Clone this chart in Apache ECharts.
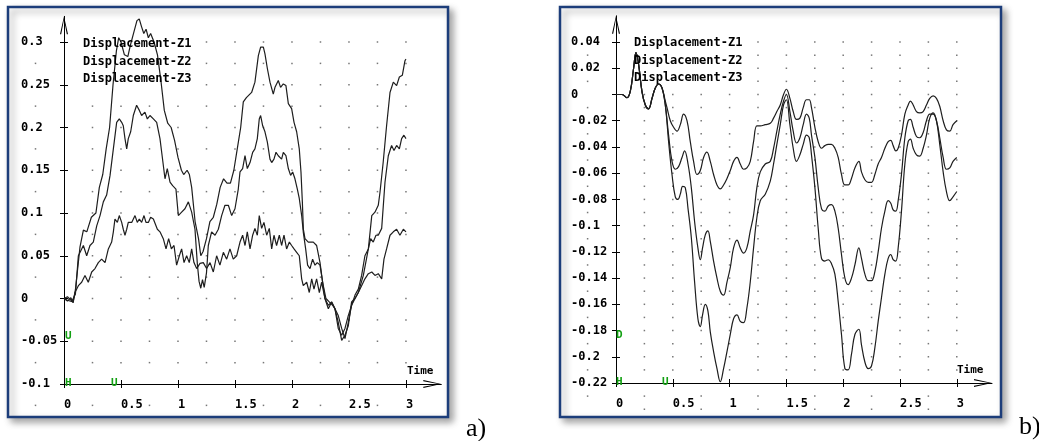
<!DOCTYPE html>
<html>
<head>
<meta charset="utf-8">
<title>Displacement</title>
<script src="https://cdn.jsdelivr.net/npm/echarts@6/dist/echarts.min.js"></script>
<style>
  html, body { margin: 0; padding: 0; background: #fff; }
  #main { width: 1039px; height: 441px; }
</style>
</head>
<body>
<div id="main"></div>
<script>
var seriesNames = ['Displacement-Z1', 'Displacement-Z2', 'Displacement-Z3']

// panel a) [time, displacement]
var aZ1 = [[0,0],[0.03,-0.002],[0.08,-0.004],[0.1,0.01],[0.14,0.06],[0.17,0.08],[0.2,0.078],[0.24,0.095],[0.28,0.1],[0.31,0.13],[0.34,0.145],[0.37,0.175],[0.4,0.2],[0.43,0.25],[0.46,0.29],[0.48,0.305],[0.5,0.3],[0.53,0.285],[0.56,0.283],[0.58,0.295],[0.61,0.31],[0.64,0.325],[0.66,0.327],[0.68,0.318],[0.7,0.31],[0.72,0.315],[0.74,0.305],[0.76,0.31],[0.79,0.3],[0.82,0.285],[0.85,0.255],[0.88,0.22],[0.91,0.205],[0.94,0.2],[0.97,0.185],[1.0,0.165],[1.03,0.15],[1.05,0.145],[1.08,0.15],[1.1,0.145],[1.12,0.13],[1.15,0.09],[1.18,0.07],[1.2,0.05],[1.22,0.055],[1.25,0.07],[1.28,0.09],[1.31,0.095],[1.34,0.11],[1.37,0.13],[1.4,0.14],[1.43,0.135],[1.46,0.135],[1.49,0.15],[1.52,0.175],[1.55,0.2],[1.573,0.23],[1.6,0.235],[1.646,0.241],[1.675,0.253],[1.705,0.284],[1.725,0.294],[1.749,0.294],[1.763,0.286],[1.784,0.269],[1.807,0.253],[1.836,0.239],[1.851,0.247],[1.88,0.255],[1.9,0.247],[1.924,0.251],[1.947,0.249],[1.968,0.228],[1.997,0.222],[2.018,0.206],[2.041,0.195],[2.064,0.175],[2.079,0.148],[2.091,0.113],[2.1,0.081],[2.114,0.07],[2.143,0.066],[2.187,0.066],[2.216,0.062],[2.246,0.042],[2.269,0.019],[2.289,0],[2.319,-0.008],[2.348,-0.004],[2.377,-0.012],[2.406,-0.028],[2.436,-0.049],[2.465,-0.043],[2.494,-0.032],[2.523,-0.004],[2.553,0],[2.582,0.007],[2.626,0.027],[2.67,0.058],[2.7,0.097],[2.728,0.101],[2.757,0.109],[2.772,0.124],[2.8,0.159],[2.83,0.202],[2.86,0.241],[2.889,0.253],[2.918,0.249],[2.942,0.259],[2.968,0.261],[2.991,0.278],[3.0,0.28]]
var aZ2 = [[0,0],[0.03,0.002],[0.07,-0.003],[0.1,0.005],[0.126,0.05],[0.17,0.062],[0.199,0.05],[0.228,0.062],[0.257,0.066],[0.287,0.085],[0.316,0.097],[0.345,0.113],[0.374,0.121],[0.404,0.144],[0.433,0.175],[0.462,0.206],[0.485,0.21],[0.506,0.206],[0.52,0.202],[0.535,0.187],[0.55,0.175],[0.564,0.187],[0.585,0.195],[0.608,0.214],[0.637,0.226],[0.661,0.22],[0.681,0.214],[0.71,0.218],[0.731,0.21],[0.754,0.214],[0.784,0.21],[0.813,0.206],[0.842,0.187],[0.857,0.171],[0.886,0.14],[0.906,0.152],[0.93,0.136],[0.953,0.132],[0.982,0.128],[1.003,0.097],[1.032,0.101],[1.061,0.105],[1.091,0.113],[1.12,0.101],[1.149,0.081],[1.17,0.04],[1.185,0.02],[1.2,0.012],[1.215,0.022],[1.23,0.013],[1.25,0.03],[1.266,0.062],[1.295,0.078],[1.325,0.074],[1.354,0.081],[1.383,0.097],[1.412,0.109],[1.442,0.109],[1.471,0.097],[1.5,0.105],[1.529,0.128],[1.544,0.148],[1.567,0.152],[1.588,0.167],[1.608,0.152],[1.632,0.159],[1.655,0.171],[1.675,0.175],[1.696,0.187],[1.713,0.21],[1.725,0.214],[1.743,0.202],[1.763,0.195],[1.784,0.183],[1.807,0.163],[1.822,0.159],[1.842,0.163],[1.86,0.171],[1.88,0.167],[1.895,0.169],[1.909,0.163],[1.924,0.171],[1.947,0.167],[1.968,0.152],[1.988,0.144],[2.006,0.148],[2.026,0.14],[2.047,0.128],[2.064,0.117],[2.085,0.097],[2.099,0.078],[2.12,0.058],[2.137,0.039],[2.158,0.035],[2.181,0.046],[2.202,0.039],[2.222,0.042],[2.246,0.039],[2.269,0.019],[2.298,0],[2.327,-0.004],[2.357,-0.008],[2.377,-0.012],[2.406,-0.02],[2.436,-0.035],[2.465,-0.047],[2.494,-0.028],[2.523,-0.008],[2.553,0.004],[2.582,0.011],[2.611,0.027],[2.64,0.05],[2.67,0.058],[2.69,0.07],[2.713,0.066],[2.737,0.074],[2.757,0.074],[2.787,0.082],[2.816,0.136],[2.845,0.167],[2.874,0.179],[2.895,0.173],[2.918,0.179],[2.942,0.175],[2.962,0.187],[2.982,0.191],[3.0,0.187]]
var aZ3 = [[0,0],[0.03,-0.003],[0.06,0.001],[0.08,-0.005],[0.096,0.007],[0.126,0.015],[0.155,0.019],[0.184,0.027],[0.213,0.019],[0.243,0.031],[0.272,0.035],[0.301,0.042],[0.33,0.046],[0.36,0.042],[0.389,0.058],[0.418,0.066],[0.433,0.078],[0.447,0.093],[0.468,0.089],[0.485,0.097],[0.506,0.089],[0.52,0.081],[0.535,0.074],[0.55,0.081],[0.564,0.089],[0.594,0.089],[0.623,0.097],[0.643,0.089],[0.661,0.093],[0.681,0.089],[0.702,0.097],[0.719,0.089],[0.74,0.089],[0.76,0.095],[0.784,0.093],[0.819,0.081],[0.842,0.078],[0.871,0.07],[0.895,0.058],[0.918,0.07],[0.942,0.058],[0.965,0.062],[0.988,0.039],[1.012,0.05],[1.032,0.058],[1.053,0.042],[1.076,0.05],[1.099,0.042],[1.12,0.058],[1.14,0.042],[1.164,0.035],[1.193,0.041],[1.222,0.042],[1.251,0.035],[1.281,0.042],[1.31,0.031],[1.339,0.05],[1.368,0.039],[1.398,0.054],[1.427,0.046],[1.456,0.058],[1.485,0.046],[1.515,0.05],[1.544,0.066],[1.567,0.074],[1.588,0.062],[1.608,0.078],[1.632,0.058],[1.655,0.074],[1.675,0.082],[1.696,0.074],[1.713,0.097],[1.734,0.082],[1.754,0.089],[1.778,0.074],[1.801,0.082],[1.822,0.058],[1.842,0.074],[1.865,0.062],[1.889,0.074],[1.909,0.062],[1.93,0.074],[1.953,0.058],[1.977,0.066],[1.997,0.062],[2.018,0.058],[2.041,0.054],[2.064,0.05],[2.085,0.023],[2.099,0.015],[2.129,0.019],[2.152,0.007],[2.173,0.023],[2.193,0.011],[2.216,0.023],[2.24,0.007],[2.26,0.019],[2.289,0],[2.319,-0.012],[2.348,-0.004],[2.377,-0.012],[2.406,-0.035],[2.436,-0.043],[2.465,-0.035],[2.494,-0.02],[2.523,-0.008],[2.553,0],[2.582,0.007],[2.611,0.015],[2.64,0.023],[2.67,0.029],[2.7,0.031],[2.728,0.027],[2.757,0.029],[2.787,0.023],[2.807,0.046],[2.83,0.058],[2.86,0.074],[2.889,0.078],[2.918,0.081],[2.947,0.074],[2.977,0.081],[3.0,0.078]]

// panel b) [time, displacement]
var bZ1 = [[0,0],[0.053,0],[0.097,-0.0025],[0.126,0.0025],[0.155,0.02],[0.176,0.032],[0.199,0.023],[0.229,0.002],[0.258,-0.008],[0.287,-0.011],[0.317,-0.003],[0.346,0.005],[0.375,0.008],[0.405,0.005],[0.434,-0.005],[0.449,-0.01],[0.478,-0.02],[0.507,-0.025],[0.537,-0.028],[0.566,-0.023],[0.595,-0.015],[0.625,-0.02],[0.654,-0.036],[0.683,-0.051],[0.713,-0.061],[0.742,-0.058],[0.771,-0.048],[0.8,-0.044],[0.83,-0.051],[0.859,-0.061],[0.889,-0.069],[0.918,-0.072],[0.947,-0.069],[0.977,-0.064],[1.006,-0.058],[1.035,-0.051],[1.065,-0.048],[1.094,-0.053],[1.123,-0.057],[1.152,-0.056],[1.182,-0.051],[1.211,-0.036],[1.24,-0.024],[1.27,-0.024],[1.314,-0.023],[1.358,-0.022],[1.387,-0.018],[1.416,-0.013],[1.446,-0.008],[1.475,0],[1.5,0.004],[1.531,-0.003],[1.56,-0.013],[1.589,-0.019],[1.619,-0.018],[1.648,-0.01],[1.677,-0.004],[1.701,-0.004],[1.721,-0.01],[1.751,-0.025],[1.78,-0.036],[1.809,-0.041],[1.839,-0.039],[1.868,-0.038],[1.897,-0.038],[1.927,-0.041],[1.956,-0.048],[1.985,-0.061],[2.015,-0.069],[2.044,-0.069],[2.073,-0.064],[2.103,-0.056],[2.138,-0.051],[2.161,-0.059],[2.191,-0.065],[2.22,-0.067],[2.249,-0.067],[2.279,-0.061],[2.308,-0.053],[2.337,-0.048],[2.367,-0.041],[2.396,-0.036],[2.419,-0.035],[2.44,-0.039],[2.463,-0.043],[2.484,-0.041],[2.513,-0.031],[2.543,-0.015],[2.572,-0.008],[2.592,-0.005],[2.616,-0.008],[2.645,-0.013],[2.674,-0.014],[2.704,-0.013],[2.733,-0.008],[2.762,-0.003],[2.792,-0.001],[2.821,-0.003],[2.85,-0.009],[2.88,-0.02],[2.909,-0.027],[2.938,-0.028],[2.967,-0.023],[3.0,-0.02]]
var bZ2 = [[0,0],[0.053,0],[0.097,-0.0025],[0.126,0.0025],[0.155,0.02],[0.176,0.032],[0.199,0.023],[0.229,0.002],[0.258,-0.008],[0.287,-0.011],[0.317,-0.003],[0.346,0.005],[0.375,0.008],[0.405,0.005],[0.434,-0.008],[0.463,-0.031],[0.493,-0.051],[0.522,-0.057],[0.551,-0.055],[0.581,-0.048],[0.604,-0.043],[0.634,-0.053],[0.663,-0.071],[0.692,-0.097],[0.721,-0.117],[0.742,-0.126],[0.762,-0.117],[0.786,-0.107],[0.809,-0.104],[0.83,-0.112],[0.859,-0.127],[0.889,-0.14],[0.918,-0.15],[0.947,-0.153],[0.977,-0.143],[1.006,-0.132],[1.035,-0.117],[1.065,-0.111],[1.094,-0.117],[1.123,-0.121],[1.152,-0.117],[1.182,-0.104],[1.211,-0.092],[1.24,-0.071],[1.27,-0.059],[1.314,-0.053],[1.358,-0.051],[1.387,-0.041],[1.416,-0.028],[1.446,-0.015],[1.475,-0.005],[1.5,0],[1.531,-0.013],[1.56,-0.028],[1.589,-0.037],[1.619,-0.033],[1.648,-0.023],[1.677,-0.015],[1.701,-0.018],[1.721,-0.031],[1.751,-0.048],[1.78,-0.071],[1.809,-0.087],[1.839,-0.089],[1.868,-0.085],[1.897,-0.084],[1.927,-0.089],[1.956,-0.102],[1.985,-0.122],[2.015,-0.14],[2.044,-0.145],[2.073,-0.14],[2.103,-0.13],[2.138,-0.117],[2.161,-0.125],[2.191,-0.137],[2.22,-0.142],[2.249,-0.142],[2.279,-0.135],[2.308,-0.12],[2.337,-0.102],[2.367,-0.089],[2.396,-0.081],[2.419,-0.083],[2.44,-0.088],[2.463,-0.089],[2.484,-0.081],[2.513,-0.061],[2.543,-0.033],[2.572,-0.02],[2.592,-0.019],[2.616,-0.025],[2.645,-0.032],[2.674,-0.033],[2.704,-0.029],[2.733,-0.02],[2.762,-0.015],[2.792,-0.015],[2.821,-0.02],[2.85,-0.033],[2.88,-0.048],[2.909,-0.057],[2.938,-0.056],[2.967,-0.051],[3.0,-0.048]]
var bZ3 = [[0,0],[0.053,0],[0.097,-0.0025],[0.126,0.0025],[0.155,0.02],[0.176,0.032],[0.199,0.023],[0.229,0.002],[0.258,-0.008],[0.287,-0.011],[0.317,-0.003],[0.346,0.005],[0.375,0.008],[0.405,0.005],[0.434,-0.008],[0.463,-0.036],[0.493,-0.061],[0.522,-0.078],[0.545,-0.08],[0.566,-0.076],[0.587,-0.07],[0.61,-0.071],[0.634,-0.087],[0.663,-0.109],[0.692,-0.143],[0.721,-0.171],[0.742,-0.177],[0.762,-0.168],[0.786,-0.16],[0.809,-0.165],[0.83,-0.181],[0.859,-0.196],[0.889,-0.209],[0.918,-0.219],[0.947,-0.209],[0.977,-0.196],[1.006,-0.183],[1.035,-0.171],[1.065,-0.168],[1.094,-0.173],[1.123,-0.174],[1.152,-0.163],[1.182,-0.143],[1.211,-0.117],[1.24,-0.094],[1.27,-0.081],[1.314,-0.076],[1.358,-0.066],[1.387,-0.053],[1.416,-0.038],[1.446,-0.023],[1.475,-0.008],[1.5,-0.004],[1.531,-0.023],[1.56,-0.041],[1.589,-0.051],[1.619,-0.046],[1.648,-0.038],[1.677,-0.031],[1.701,-0.033],[1.721,-0.046],[1.751,-0.071],[1.78,-0.102],[1.809,-0.125],[1.839,-0.127],[1.868,-0.126],[1.897,-0.129],[1.927,-0.137],[1.956,-0.158],[1.985,-0.183],[2.015,-0.209],[2.044,-0.21],[2.073,-0.198],[2.103,-0.183],[2.138,-0.179],[2.161,-0.191],[2.191,-0.204],[2.22,-0.209],[2.249,-0.207],[2.279,-0.193],[2.308,-0.173],[2.337,-0.155],[2.367,-0.137],[2.396,-0.125],[2.419,-0.122],[2.44,-0.126],[2.463,-0.127],[2.484,-0.117],[2.513,-0.089],[2.543,-0.053],[2.572,-0.036],[2.592,-0.034],[2.616,-0.041],[2.645,-0.046],[2.674,-0.047],[2.704,-0.041],[2.733,-0.031],[2.762,-0.018],[2.792,-0.014],[2.821,-0.02],[2.85,-0.038],[2.88,-0.059],[2.909,-0.074],[2.938,-0.081],[2.967,-0.078],[3.0,-0.074]]

// tick labels
var timeTicks = [0, 0.5, 1, 1.5, 2, 2.5, 3]
var aTicks = [-0.1, -0.05, 0, 0.05, 0.1, 0.15, 0.2, 0.25, 0.3]
var bTicks = [-0.22, -0.2, -0.18, -0.16, -0.14, -0.12, -0.1, -0.08, -0.06, -0.04, -0.02, 0, 0.02, 0.04]

var monoFont = 'DejaVu Sans Mono'
var lineColor = '#1e1e1e'
// open "V" arrow head for axis ends
var arrowPath = 'path://M4,0 L8,18 L6.8,18 L4,3.2 L1.2,18 L0,18 Z'

// background dot grid (decoration only), step in x = 0.25
function dotGrid (yStep, jMin, jMax, jAxis, legendRow) {
  var pts = []
  for (var i = -1; i <= 12; i++) {
    for (var j = jMin; j <= jMax; j++) {
      if (i === 0 || j === jAxis) continue
      if (i === -1 && j % 2 === 0) continue // y label rows
      if (j < jAxis && i % 2 === 0) continue // x label columns
      if (i >= 1 && i <= 4 && j >= legendRow) continue // under legend text
      pts.push([i * 0.25, +(j * yStep).toFixed(4)])
    }
  }
  return pts
}

function xAxes (gridIndex) {
  var base = { type: 'value', gridIndex: gridIndex, min: 0, max: 3.31, position: 'bottom', splitLine: { show: false } }
  return [
    Object.assign({}, base, {
      axisLine: { show: true, onZero: false, lineStyle: { color: '#000', width: 1 }, symbol: ['none', arrowPath], symbolSize: [8, 18], symbolOffset: [0, -9] },
      axisTick: { show: true, inside: true, length: 4, customValues: timeTicks, lineStyle: { color: '#000' } },
      axisLabel: { show: true, customValues: timeTicks, align: 'left', verticalAlign: 'middle', margin: 21, color: '#000', fontFamily: monoFont, fontWeight: 'bold', fontSize: 12 }
    }),
    Object.assign({}, base, {
      axisLine: { show: false, onZero: false },
      axisTick: { show: true, inside: false, length: 4, customValues: timeTicks, lineStyle: { color: '#000' } },
      axisLabel: { show: false }
    })
  ]
}

function yAxes (gridIndex, min, max, ticks, margin) {
  var base = { type: 'value', gridIndex: gridIndex, min: min, max: max, position: 'left', splitLine: { show: false } }
  return [
    Object.assign({}, base, {
      axisLine: { show: true, onZero: false, lineStyle: { color: '#000', width: 1 }, symbol: ['none', arrowPath], symbolSize: [8, 18], symbolOffset: [0, -9] },
      axisTick: { show: true, inside: true, length: 4, customValues: ticks, lineStyle: { color: '#000' } },
      axisLabel: { show: true, customValues: ticks, align: 'left', margin: margin, color: '#000', fontFamily: monoFont, fontWeight: 'bold', fontSize: 12 }
    }),
    Object.assign({}, base, {
      axisLine: { show: false, onZero: false },
      axisTick: { show: true, inside: false, length: 4, customValues: ticks, lineStyle: { color: '#000' } },
      axisLabel: { show: false }
    })
  ]
}

function curve (name, data, axisIdx, smooth) {
  return {
    name: name,
    type: 'line',
    xAxisIndex: axisIdx,
    yAxisIndex: axisIdx,
    data: data,
    symbol: 'none',
    smooth: smooth,
    lineStyle: { color: lineColor, width: 1.2 },
    itemStyle: { color: lineColor },
    emphasis: { disabled: true }
  }
}

function dots (data, axisIdx) {
  return {
    type: 'scatter',
    xAxisIndex: axisIdx,
    yAxisIndex: axisIdx,
    data: data,
    symbol: 'rect',
    symbolSize: 1.5,
    clip: false,
    silent: true,
    itemStyle: { color: '#555' },
    z: 1
  }
}

function legendAt (left, top) {
  return {
    data: seriesNames,
    orient: 'vertical',
    left: left,
    top: top,
    padding: 0,
    itemWidth: 0,
    itemHeight: 0,
    itemGap: 3.5,
    selectedMode: false,
    textStyle: { color: '#000', fontFamily: monoFont, fontWeight: 'bold', fontSize: 12, lineHeight: 14 }
  }
}

function label (text, x, y, font, color, align) {
  return { type: 'text', x: x, y: y, z: 10, style: { text: text, font: font, fill: color, align: align || 'left', verticalAlign: 'middle' } }
}

var smallFont = 'bold 11px "DejaVu Sans Mono"'
var tagFont = 'bold 11px "DejaVu Sans Mono"'
var green = '#12a012'

var myChart = echarts.init(document.getElementById('main'))
var option = {
  animation: false,
  backgroundColor: '#ffffff',
  grid: [
    { left: 64, right: 597.7, top: 16.35, bottom: 57 },
    { left: 616, right: 47, top: 15.8, bottom: 58 }
  ],
  xAxis: xAxes(0).concat(xAxes(1)),
  yAxis: yAxes(0, -0.1, 0.33, aTicks, 43).concat(yAxes(1, -0.22, 0.06, bTicks, 45)),
  legend: [legendAt(77, 37), legendAt(628, 36)],
  graphic: [
    { type: 'rect', z: -10, shape: { x: 8, y: 7, width: 440, height: 410 }, style: { fill: '#fff', stroke: '#1c3d7a', lineWidth: 2.5, shadowBlur: 7, shadowOffsetX: 4, shadowOffsetY: 4, shadowColor: 'rgba(0,0,0,0.35)' } },
    { type: 'rect', z: -10, shape: { x: 560, y: 7, width: 441, height: 410 }, style: { fill: '#fff', stroke: '#1c3d7a', lineWidth: 2.5, shadowBlur: 7, shadowOffsetX: 4, shadowOffsetY: 4, shadowColor: 'rgba(0,0,0,0.35)' } },
    label('Time', 407, 371, smallFont, '#000'),
    label('Time', 957, 370, smallFont, '#000'),
    label('U', 65, 336, tagFont, green),
    label('H', 65, 383, tagFont, green),
    label('U', 111, 383, tagFont, green),
    label('D', 616, 335, tagFont, green),
    label('H', 616, 382, tagFont, green),
    label('U', 662, 382, tagFont, green),
    label('a)', 466, 429, '26px "Liberation Serif"', '#000'),
    label('b)', 1019, 427, '26px "Liberation Serif"', '#000')
  ],
  series: [
    dots(dotGrid(0.025, -5, 12, -4, 10), 0),
    dots(dotGrid(0.01, -24, 4, -22, 1), 2),
    curve(seriesNames[0], aZ1, 0, false),
    curve(seriesNames[1], aZ2, 0, false),
    curve(seriesNames[2], aZ3, 0, false),
    curve(seriesNames[0], bZ1, 2, 0.4),
    curve(seriesNames[1], bZ2, 2, 0.4),
    curve(seriesNames[2], bZ3, 2, 0.4)
  ]
}
myChart.setOption(option)
window.onresize = myChart.resize
</script>
</body>
</html>
